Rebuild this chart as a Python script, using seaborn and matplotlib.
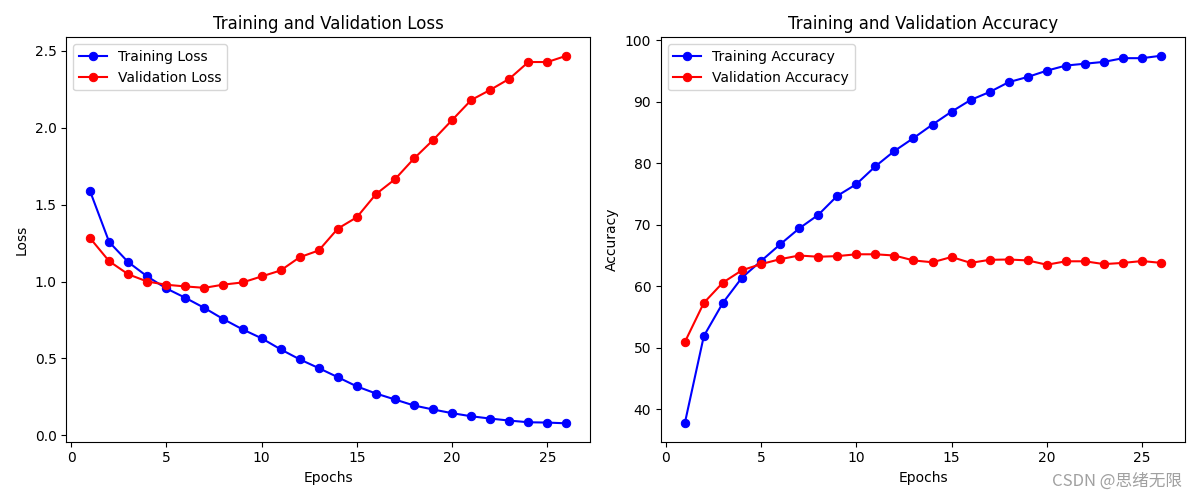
import numpy as np
import pandas as pd
import matplotlib
matplotlib.use("Agg")
import matplotlib.pyplot as plt
import seaborn as sns

epochs = list(range(1, 27))

train_loss = [1.587, 1.257, 1.126, 1.033, 0.955, 0.894, 0.828, 0.755, 0.689, 0.631,
              0.559, 0.494, 0.437, 0.378, 0.318, 0.272, 0.233, 0.194, 0.168, 0.144,
              0.124, 0.109, 0.096, 0.085, 0.083, 0.078]
val_loss = [1.282, 1.132, 1.047, 1.000, 0.979, 0.968, 0.959, 0.980, 0.994, 1.033,
            1.072, 1.158, 1.202, 1.344, 1.418, 1.568, 1.665, 1.800, 1.920, 2.050,
            2.180, 2.246, 2.318, 2.427, 2.427, 2.468]

train_acc = [37.7, 51.9, 57.3, 61.4, 64.1, 66.8, 69.4, 71.6, 74.7, 76.6,
             79.5, 82.0, 84.1, 86.3, 88.4, 90.3, 91.6, 93.2, 94.05, 95.07,
             95.9, 96.2, 96.5, 97.1, 97.1, 97.5]
val_acc = [50.9, 57.3, 60.6, 62.6, 63.6, 64.4, 65.0, 64.8, 64.9, 65.2,
           65.2, 65.0, 64.2, 63.9, 64.76, 63.8, 64.3, 64.35, 64.2, 63.5,
           64.06, 64.06, 63.6, 63.8, 64.1, 63.8]

df = pd.DataFrame({
    "epoch": epochs,
    "train_loss": train_loss,
    "val_loss": val_loss,
    "train_acc": train_acc,
    "val_acc": val_acc,
})

fig, axes = plt.subplots(1, 2, figsize=(12, 5), dpi=100)

# loss panel
ax = axes[0]
sns.lineplot(data=df, x="epoch", y="train_loss", ax=ax, color="blue", marker="o",
             markersize=6, markeredgecolor="blue", label="Training Loss")
sns.lineplot(data=df, x="epoch", y="val_loss", ax=ax, color="red", marker="o",
             markersize=6, markeredgecolor="red", label="Validation Loss")
ax.set_title("Training and Validation Loss")
ax.set_xlabel("Epochs")
ax.set_ylabel("Loss")
ax.legend(loc="upper left")

# accuracy panel
ax = axes[1]
sns.lineplot(data=df, x="epoch", y="train_acc", ax=ax, color="blue", marker="o",
             markersize=6, markeredgecolor="blue", label="Training Accuracy")
sns.lineplot(data=df, x="epoch", y="val_acc", ax=ax, color="red", marker="o",
             markersize=6, markeredgecolor="red", label="Validation Accuracy")
ax.set_title("Training and Validation Accuracy")
ax.set_xlabel("Epochs")
ax.set_ylabel("Accuracy")
ax.legend(loc="upper left")

plt.tight_layout()

fig.text(0.985, 0.02, "CSDN @思绪无限", ha="right", va="bottom", fontsize=12,
         color="#a0a0a0", family=["Noto Sans CJK SC", "DejaVu Sans"])

plt.savefig("out.png")
plt.close()
